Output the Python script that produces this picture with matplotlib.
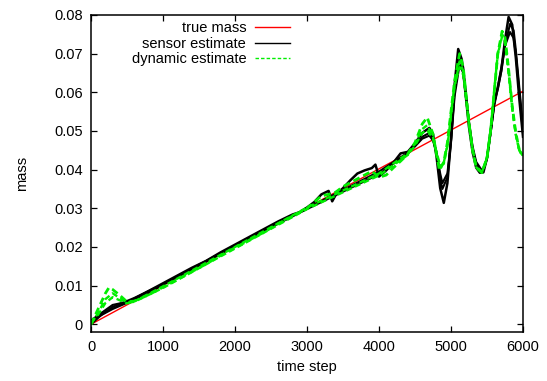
import matplotlib
matplotlib.use("Agg")
import matplotlib.pyplot as plt

# true mass (straight line)
true_x = [0, 6000]
true_y = [0.0, 0.0603]

# sensor estimate, main run
sensor_x = [0, 100, 200, 300, 400, 500, 600, 800, 1000, 1200, 1400, 1600, 1800,
            2000, 2200, 2400, 2600, 2800, 2900, 3000, 3100, 3200, 3300, 3350,
            3400, 3500, 3600, 3700, 3800, 3900, 3950, 4000, 4100, 4200, 4300,
            4400, 4500, 4600, 4700, 4750, 4800, 4850, 4900, 4950, 5000, 5050,
            5100, 5150, 5200, 5250, 5300, 5350, 5400, 5450, 5500, 5550, 5600,
            5650, 5700, 5750, 5800, 5850, 5900, 5950, 6000]
sensor_y = [0.0005, 0.002, 0.003, 0.004, 0.0048, 0.0056, 0.0066, 0.0086, 0.0106,
            0.0126, 0.0146, 0.0164, 0.0186, 0.0206, 0.0226, 0.0246, 0.0266, 0.0284,
            0.029, 0.0302, 0.0316, 0.0336, 0.0345, 0.0318, 0.0335, 0.0352, 0.0372,
            0.0390, 0.0398, 0.0404, 0.0413, 0.0382, 0.0398, 0.0418, 0.0442,
            0.0446, 0.0468, 0.0495, 0.0508, 0.0492, 0.0432, 0.0352, 0.0314, 0.0365,
            0.048, 0.062, 0.0712, 0.0685, 0.0600, 0.0510, 0.0445, 0.0405, 0.0392,
            0.0393, 0.0430, 0.0500, 0.0575, 0.0610, 0.0660, 0.0735, 0.0795, 0.0775,
            0.0690, 0.0580, 0.0485]

# sensor estimate, other runs
sensor2_x = [0, 150, 300, 600, 1000, 2000, 3000, 4000, 4400, 4500, 4600, 4700,
             4750, 4800, 4850, 4880, 4950, 5000, 5050, 5120, 5170, 5200, 5250,
             5300, 5350, 5440, 5500, 5550, 5600, 5650, 5700, 5750, 5820, 5870,
             5900, 5950, 6000]
sensor2_y = [0.001, 0.003, 0.005, 0.0062, 0.0102, 0.0202, 0.0300, 0.0395, 0.0444,
             0.0462, 0.0485, 0.0495, 0.0480, 0.0440, 0.0375, 0.0350, 0.0380, 0.0470,
             0.0590, 0.0673, 0.0650, 0.0600, 0.0520, 0.0460, 0.0420, 0.0395, 0.0430,
             0.0495, 0.0565, 0.0610, 0.0655, 0.0720, 0.0777, 0.0760, 0.0710, 0.0610,
             0.0510]
sensor3_x = [0, 150, 300, 600, 1000, 2000, 3000, 4000, 4400, 4500, 4600, 4700,
             4750, 4800, 4850, 4880, 4950, 5000, 5050, 5120, 5170, 5200, 5250,
             5300, 5350, 5440, 5500, 5550, 5600, 5650, 5700, 5750, 5820, 5870,
             5900, 5950, 6000]
sensor3_y = [0.0, 0.0025, 0.0045, 0.0068, 0.0104, 0.0204, 0.0298, 0.0388, 0.0442,
             0.0460, 0.0480, 0.0488, 0.0475, 0.0445, 0.0390, 0.0365, 0.0390, 0.0475,
             0.0600, 0.0690, 0.0665, 0.0610, 0.0525, 0.0455, 0.0415, 0.0393, 0.0428,
             0.0495, 0.0570, 0.0615, 0.0665, 0.0720, 0.0756, 0.0740, 0.0700, 0.0600,
             0.0495]

# dynamic estimate, main run
dynamic_x = [0, 100, 200, 250, 300, 400, 500, 600, 800, 1000, 1200, 1400, 1600,
             1800, 2000, 2200, 2400, 2600, 2800, 3000, 3100, 3200, 3300, 3400,
             3500, 3600, 3700, 3800, 3900, 4000, 4100, 4200, 4300, 4400, 4500,
             4600, 4670, 4750, 4800, 4840, 4900, 4950, 5000, 5050, 5120, 5170,
             5200, 5250, 5300, 5350, 5430, 5500, 5550, 5600, 5650, 5710, 5750,
             5800, 5850, 5900, 5950, 6000]
dynamic_y = [0.0, 0.004, 0.008, 0.0095, 0.009, 0.0075, 0.0058, 0.006, 0.0076,
             0.0096, 0.0116, 0.0136, 0.0156, 0.0178, 0.0198, 0.0218, 0.0238, 0.026,
             0.028, 0.030, 0.0316, 0.0332, 0.0336, 0.0342, 0.0356, 0.0366, 0.0376,
             0.0386, 0.0396, 0.0380, 0.0386, 0.0405, 0.0422, 0.0440, 0.0470, 0.0518,
             0.0535, 0.0492, 0.0438, 0.0398, 0.0420, 0.0470, 0.0550, 0.0630, 0.0700,
             0.0665, 0.0610, 0.0520, 0.0450, 0.0405, 0.0392, 0.0430, 0.0500, 0.0600,
             0.0700, 0.0758, 0.0742, 0.0660, 0.0565, 0.0495, 0.0450, 0.0434]

# dynamic estimate, other runs
dynamic2_x = [0, 100, 200, 300, 400, 500, 600, 1000, 2000, 3000, 4000, 4400,
              4500, 4600, 4670, 4750, 4800, 4850, 4900, 4950, 5000, 5050, 5120,
              5170, 5200, 5250, 5300, 5350, 5430, 5500, 5550, 5600, 5650, 5710,
              5750, 5800, 5850, 5900, 5950, 6000]
dynamic2_y = [0.0, 0.003, 0.0065, 0.008, 0.0068, 0.0056, 0.0058, 0.0094, 0.0196,
              0.0298, 0.0385, 0.0438, 0.0462, 0.0495, 0.0502, 0.0480, 0.0445, 0.0410,
              0.0415, 0.0460, 0.0540, 0.0615, 0.0680, 0.0655, 0.0605, 0.0520, 0.0452,
              0.0408, 0.0394, 0.0432, 0.0505, 0.0605, 0.0700, 0.0750, 0.0735, 0.0655,
              0.0560, 0.0490, 0.0448, 0.0436]
dynamic3_x = [0, 100, 200, 300, 400, 500, 600, 1000, 2000, 3000, 4000, 4400,
              4500, 4600, 4670, 4750, 4800, 4850, 4900, 4950, 5000, 5050, 5120,
              5170, 5200, 5250, 5300, 5350, 5430, 5500, 5550, 5600, 5650, 5710,
              5750, 5800, 5850, 5900, 5950, 6000]
dynamic3_y = [0.0005, 0.0025, 0.0055, 0.007, 0.0062, 0.0054, 0.0059, 0.0098, 0.0200,
              0.0302, 0.0390, 0.0442, 0.0466, 0.0505, 0.0515, 0.0485, 0.0440, 0.0405,
              0.0418, 0.0465, 0.0545, 0.0620, 0.0665, 0.0645, 0.0600, 0.0518, 0.0450,
              0.0406, 0.0393, 0.0431, 0.0502, 0.0602, 0.0698, 0.0745, 0.0730, 0.0650,
              0.0558, 0.0492, 0.0450, 0.0437]

plt.rcParams["font.family"] = ["Liberation Sans", "DejaVu Sans"]
plt.rcParams["font.size"] = 10.5

fig = plt.figure(figsize=(5.47, 3.81), dpi=100)
ax = fig.add_axes([91 / 547, 1 - 332 / 381, 432 / 547, 317 / 381])

green = "#00ee00"
dash = (0, (2.5, 1.5))
ax.plot(sensor2_x, sensor2_y, color="black", lw=1.5)
ax.plot(sensor3_x, sensor3_y, color="black", lw=1.5)
ax.plot(sensor_x, sensor_y, color="black", lw=1.8, label="sensor estimate")
ax.plot(dynamic2_x, dynamic2_y, color=green, lw=1.7, ls=dash)
ax.plot(dynamic3_x, dynamic3_y, color=green, lw=1.7, ls=dash)
ax.plot(dynamic_x, dynamic_y, color=green, lw=2.0, ls=dash,
        label="dynamic estimate")
ax.plot(true_x, true_y, color="red", lw=1.0, label="true mass", zorder=1.9)

ax.set_xlim(0, 6000)
ax.set_ylim(-0.002, 0.08)
ax.set_xticks(range(0, 6001, 1000))
ax.set_yticks([0, 0.01, 0.02, 0.03, 0.04, 0.05, 0.06, 0.07, 0.08])
ax.set_yticklabels(["0", "0.01", "0.02", "0.03", "0.04", "0.05", "0.06", "0.07", "0.08"])
ax.tick_params(direction="in", top=True, right=True, length=4.5, width=0.9, pad=6)
for s in ax.spines.values():
    s.set_linewidth(1.1)

ax.set_xlabel("time step", labelpad=4)
ax.set_ylabel("mass", labelpad=18)

handles, labels = ax.get_legend_handles_labels()
order = [2, 0, 1]
leg = ax.legend([handles[i] for i in order], [labels[i] for i in order],
                loc="upper right", bbox_to_anchor=(290 / 547, 1 - 21 / 381),
                bbox_transform=fig.transFigure, frameon=False, markerfirst=False,
                handlelength=2.4, handletextpad=0.6, labelspacing=0.12,
                borderpad=0, borderaxespad=0)
for line in leg.get_lines():
    line.set_linewidth(1.0)

fig.savefig("out.png", dpi=100)
